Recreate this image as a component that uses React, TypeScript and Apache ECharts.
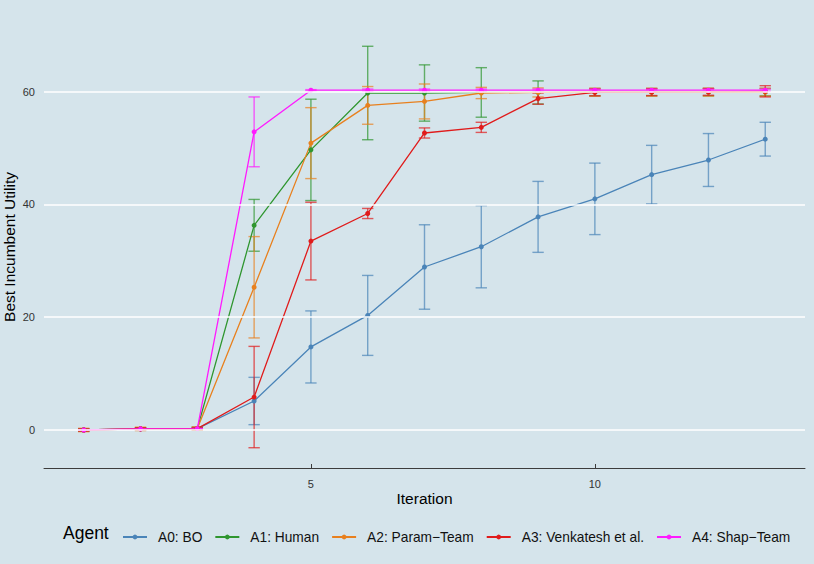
import React, { useEffect, useRef } from "react";
import * as echarts from "echarts";

const iterations = [1, 2, 3, 4, 5, 6, 7, 8, 9, 10, 11, 12, 13];
const agentNames = ["A0: BO", "A1: Human", "A2: Param\u2212Team", "A3: Venkatesh et al.", "A4: Shap\u2212Team"];
const agentColors = ["#4A84B8", "#2F962F", "#E8801E", "#E01B1B", "#FF1AFF"];

const meanA0 = [-0.05, 0.15, 0.2, 5.1, 14.7, 20.3, 28.9, 32.5, 37.8, 41.0, 45.3, 47.9, 51.6];
const errA0 = [0.2, 0.2, 0.2, 4.2, 6.4, 7.1, 7.5, 7.3, 6.3, 6.35, 5.2, 4.7, 3.0];
const meanA1 = [-0.05, 0.15, 0.2, 36.3, 49.7, 59.8, 59.8, 59.9, 59.9, 59.95, 59.95, 59.95, 59.95];
const errA1 = [0.2, 0.2, 0.2, 4.6, 9.0, 8.3, 5.0, 4.4, 2.05, 0.65, 0.65, 0.65, 0.65];
const meanA2 = [-0.05, 0.15, 0.2, 25.3, 50.9, 57.6, 58.3, 59.8, 59.9, 59.95, 59.95, 59.95, 59.95];
const errA2 = [0.3, 0.3, 0.3, 9.0, 6.3, 3.35, 3.1, 1.0, 0.8, 0.7, 0.7, 0.7, 0.7];
const meanA3 = [-0.05, 0.15, 0.2, 5.8, 33.5, 38.4, 52.7, 53.7, 58.8, 59.9, 59.95, 60.0, 60.1];
const errA3 = [0.2, 0.2, 0.2, 9.0, 6.9, 0.9, 0.9, 0.9, 1.0, 0.6, 0.6, 0.6, 1.0];
const meanA4 = [-0.05, 0.15, 0.2, 52.9, 60.3, 60.3, 60.3, 60.3, 60.3, 60.3, 60.3, 60.3, 60.3];
const errA4 = [0.0, 0.0, 0.0, 6.2, 0.1, 0.2, 0.2, 0.2, 0.2, 0.2, 0.2, 0.2, 0.2];

const yTicks = [0, 20, 40, 60];
const xTicks = [5, 10];

const means = [meanA0, meanA1, meanA2, meanA3, meanA4];
const errs = [errA0, errA1, errA2, errA3, errA4];

const FONT = "'Liberation Sans', Arial, Helvetica, sans-serif";
const CAP = 0.1;

export default function App() {
  const ref = useRef<HTMLDivElement>(null);
  useEffect(() => {
    document.body.style.margin = "0";
    document.body.style.background = "#D5E4EB";
    const chart = echarts.init(ref.current!, undefined, { renderer: "svg" });
    const series: any[] = [
      {
        type: "line",
        name: "grid",
        data: [],
        z: 1,
        silent: true,
        markLine: {
          silent: true,
          symbol: "none",
          label: { show: false },
          lineStyle: { color: "#FFFFFF", width: 1.6, type: "solid" },
          emphasis: { disabled: true },
          data: yTicks.map((v) => ({ yAxis: v })),
        },
      },
    ];
    agentNames.forEach((name, i) => {
      const color = agentColors[i];
      series.push({
        type: "line",
        name,
        z: 3,
        data: iterations.map((x, j) => [x, means[i][j]]),
        symbol: "circle",
        symbolSize: 5,
        showSymbol: true,
        lineStyle: { color, width: 1.3 },
        itemStyle: { color },
        emphasis: { disabled: true },
      });
      series.push({
        type: "custom",
        name: name + " err",
        z: 3,
        data: iterations.map((x, j) => [x, means[i][j] - errs[i][j], means[i][j] + errs[i][j]]),
        encode: { x: 0, y: [1, 2] },
        renderItem: (params: any, api: any) => {
          const x = api.value(0);
          const lo = api.value(1);
          const hi = api.value(2);
          const pLo = api.coord([x, lo]);
          const pHi = api.coord([x, hi]);
          const cL = api.coord([x - CAP, hi]);
          const cR = api.coord([x + CAP, hi]);
          const hw = (cR[0] - cL[0]) / 2;
          const style = { stroke: color, lineWidth: 1.4, opacity: 0.7 };
          return {
            type: "group",
            children: [
              { type: "line", shape: { x1: pLo[0], y1: pLo[1], x2: pHi[0], y2: pHi[1] }, style },
              { type: "line", shape: { x1: pHi[0] - hw, y1: pHi[1], x2: pHi[0] + hw, y2: pHi[1] }, style },
              { type: "line", shape: { x1: pLo[0] - hw, y1: pLo[1], x2: pLo[0] + hw, y2: pLo[1] }, style },
            ],
          };
        },
      });
    });

    chart.setOption({
      animation: false,
      backgroundColor: "#D5E4EB",
      textStyle: { fontFamily: FONT },
      grid: { left: 44, right: 9, top: 26, bottom: 96, containLabel: false, outerBoundsMode: "none" },
      xAxis: {
        type: "value",
        min: 0.3,
        max: 13.7,
        name: "Iteration",
        nameLocation: "middle",
        nameGap: 22,
        nameMoveOverlap: false,
        nameTextStyle: { color: "#000", fontSize: 15.5, fontFamily: FONT },
        axisLine: { show: true, onZero: false, lineStyle: { color: "#3C3C3C", width: 1 } },
        axisTick: { show: true, inside: true, length: 4, customValues: xTicks, lineStyle: { color: "#3C3C3C" } },
        axisLabel: { customValues: xTicks, color: "#333", fontSize: 11, margin: 10, fontFamily: FONT },
        splitLine: { show: false },
      },
      yAxis: {
        type: "value",
        min: -6.8,
        max: 71.7,
        name: "Best Incumbent Utility",
        nameLocation: "middle",
        nameRotate: 90,
        nameGap: 27,
        nameMoveOverlap: false,
        nameTextStyle: { color: "#000", fontSize: 15.5, fontFamily: FONT },
        axisLine: { show: false },
        axisTick: { show: false },
        axisLabel: { customValues: yTicks, color: "#333", fontSize: 11, margin: 9, fontFamily: FONT },
        splitLine: { show: false },
      },
      legend: {
        data: agentNames,
        left: 122,
        top: 530,
        padding: 0,
        itemWidth: 24,
        itemHeight: 6,
        itemGap: 12,
        selectedMode: false,
        lineStyle: { width: 2 },
        textStyle: { color: "#111", fontSize: 13.75, fontFamily: FONT, padding: [0, 0, 0, 6] },
      },
      graphic: [
        {
          type: "text",
          left: 63,
          top: 524,
          style: { text: "Agent", fill: "#000", fontSize: 17.5, fontFamily: FONT },
        },
      ],
      series,
    });
    return () => chart.dispose();
  }, []);
  return <div ref={ref} style={{ width: 814, height: 564 }} />;
}
